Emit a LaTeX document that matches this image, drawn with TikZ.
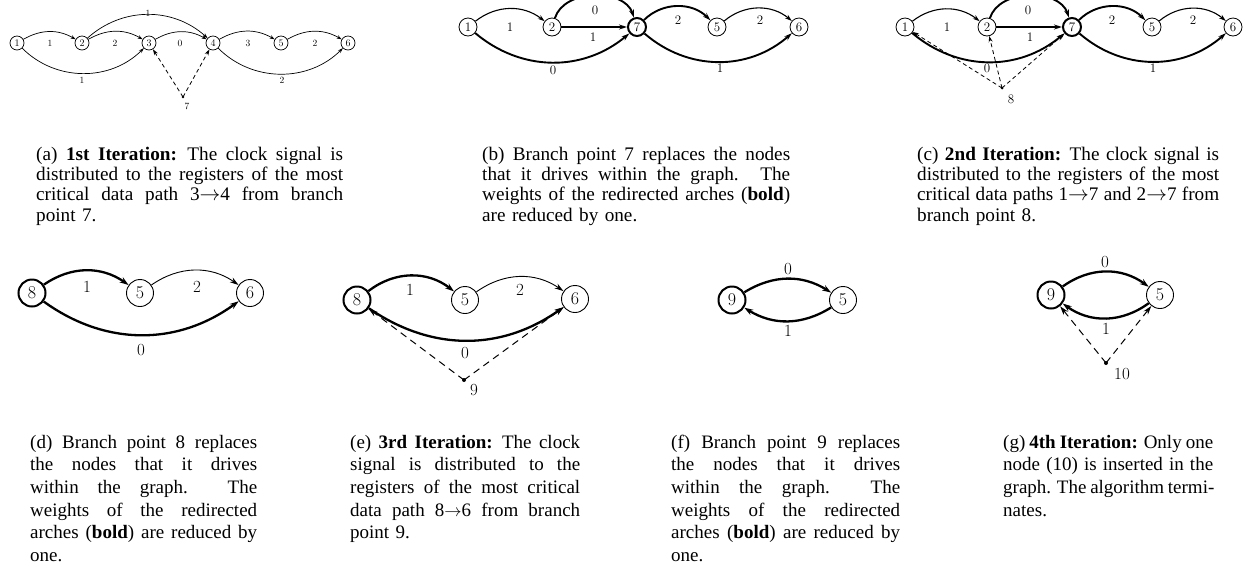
\documentclass[tikz,border=0pt]{standalone}
\usepackage{fontspec}
\newfontfamily\capfont{Liberation Serif}
\usetikzlibrary{arrows.meta}
\newcommand{\jl}[2]{\leavevmode{\spaceskip=0.25em plus 2em minus 0.05em\xspaceskip=0.35em plus 2em minus 0.05em\hbox to #1{#2}}}
\tikzset{
  vs/.style={circle,draw,line width=0.7pt,inner sep=0pt,minimum size=14pt,font=\fontsize{10}{10}\selectfont},
  vm/.style={circle,draw,line width=0.8pt,inner sep=0pt,minimum size=18pt,font=\fontsize{13}{13}\selectfont},
  vl/.style={circle,draw,line width=0.9pt,inner sep=0pt,minimum size=27pt,font=\fontsize{18}{18}\selectfont},
  vbold/.style={line width=2pt},
  es/.style={line width=0.7pt,-{Stealth[length=5pt,width=3.5pt]}},
  em/.style={line width=1.1pt,-{Stealth[length=7pt,width=4.5pt]}},
  eb/.style={line width=1.9pt,-{Stealth[length=8pt,width=5pt]}},
  et/.style={line width=0.9pt,-{Stealth[length=9pt,width=5.5pt]}},
  ebl/.style={line width=2.3pt,-{Stealth[length=9pt,width=6pt]}},
  das/.style={dash pattern=on 4pt off 3pt,line width=0.8pt,-{Stealth[length=6pt,width=4pt]}},
  dal/.style={dash pattern=on 7pt off 5pt,line width=1pt,-{Stealth[length=9pt,width=5.5pt]}},
  ls/.style={inner sep=0pt,font=\fontsize{9.5}{9.5}\selectfont},
  lm/.style={inner sep=0pt,font=\fontsize{13}{13}\selectfont},
  ll/.style={inner sep=0pt,font=\fontsize{17}{17}\selectfont},
  captop/.style={anchor=base west,inner sep=0pt,align=left,text width=310pt,font=\capfont\fontsize{19.2}{20.4}\selectfont},
  capbot/.style={anchor=base west,inner sep=0pt,align=left,text width=232pt,font=\capfont\fontsize{19}{22.7}\selectfont},
}
\begin{document}
\begin{tikzpicture}[x=1pt,y=1pt]
\useasboundingbox (0,0) rectangle (1251,-566);
% ---------- (a)
\node[vs] (a1) at (17,-43) {1};
\node[vs] (a2) at (82,-43) {2};
\node[vs] (a3) at (149,-43) {3};
\node[vs] (a4) at (213,-43) {4};
\node[vs] (a5) at (281,-43) {5};
\node[vs] (a6) at (348,-43) {6};
\draw[es] (a1) to[bend left=30] (a2);
\draw[es] (a2) to[bend left=30] (a3);
\draw[es] (a1) to[bend right=45] (a3);
\draw[es] (a3) to[bend left=30] (a4);
\draw[es] (a2) to[bend left=42] (a4);
\draw[es] (a4) to[bend left=30] (a5);
\draw[es] (a5) to[bend left=30] (a6);
\draw[es] (a4) to[bend right=45] (a6);
\node[ls] (la12) at (50,-43) {1};
\node[ls] (la23) at (115,-43) {2};
\node[ls] (la13) at (82,-80) {1};
\node[ls] (la34) at (180,-43) {0};
\node[ls] (la24) at (148,-13) {1};
\node[ls] (la45) at (248,-43) {3};
\node[ls] (la56) at (315,-43) {2};
\node[ls] (la46) at (282,-80) {2};
\coordinate (p7) at (183,-97);
\fill (p7) circle (1.3);
\node[ls] (lp7) at (187,-106) {7};
\draw[das] (p7) -- (a3);
\draw[das] (p7) -- (a4);
% ---------- (b)
\node[vm] (b1) at (468,-27) {1};
\node[vm] (b2) at (552,-27) {2};
\node[vm,vbold] (b7) at (637,-27) {7};
\node[vm] (b5) at (717,-27) {5};
\node[vm] (b6) at (799,-27) {6};
\draw[em] (b1) to[bend left=38] (b2);
\draw[eb] (b2) to[bend left=72] (b7);
\draw[eb] (b2) -- (b7);
\draw[eb] (b1) to[bend right=40] (b7);
\draw[eb] (b7) to[bend left=45] (b5);
\draw[em] (b5) to[bend left=40] (b6);
\draw[eb] (b7) to[bend right=41] (b6);
\node[lm] (lb12) at (510,-27) {1};
\node[lm] (lb27a) at (595,-10) {0};
\node[lm] (lb27b) at (593,-37) {1};
\node[lm] (lb17) at (553,-70) {0};
\node[lm] (lb75) at (678,-20) {2};
\node[lm] (lb56) at (760,-20) {2};
\node[lm] (lb76) at (720,-68) {1};
% ---------- (c)
\node[vm] (c1) at (905,-27) {1};
\node[vm] (c2) at (987,-27) {2};
\node[vm,vbold] (c7) at (1072,-27) {7};
\node[vm] (c5) at (1152,-27) {5};
\node[vm] (c6) at (1233,-27) {6};
\draw[em] (c1) to[bend left=38] (c2);
\draw[eb] (c2) to[bend left=72] (c7);
\draw[eb] (c2) -- (c7);
\draw[eb] (c1) to[bend right=40] (c7);
\draw[eb] (c7) to[bend left=45] (c5);
\draw[em] (c5) to[bend left=40] (c6);
\draw[eb] (c7) to[bend right=41] (c6);
\node[lm] (lc12) at (947,-27) {1};
\node[lm] (lc27a) at (1028,-10) {0};
\node[lm] (lc27b) at (1030,-37) {1};
\node[lm] (lc17) at (987,-68) {0};
\node[lm] (lc75) at (1112,-20) {2};
\node[lm] (lc56) at (1193,-20) {2};
\node[lm] (lc76) at (1153,-68) {1};
\coordinate (p8) at (1002,-88);
\fill (p8) circle (1.5);
\node[lm] (lp8) at (1011,-99) {8};
\draw[das] (p8) -- (c1);
\draw[das] (p8) -- (c2);
\draw[das] (p8) -- (c7);
% ---------- (d)
\node[vl,vbold] (d8) at (32,-293) {8};
\node[vl] (d5) at (140,-293) {5};
\node[vl] (d6) at (250,-293) {6};
\draw[ebl] (d8) to[bend left=35] (d5);
\draw[et] (d5) to[bend left=35] (d6);
\draw[ebl] (d8) to[bend right=36] (d6);
\node[ll] (ld85) at (87,-287) {1};
\node[ll] (ld56) at (197,-287) {2};
\node[ll] (ld86) at (141,-350) {0};
% ---------- (e)
\node[vl,vbold] (e8) at (357,-300) {8};
\node[vl] (e5) at (465,-300) {5};
\node[vl] (e6) at (575,-299) {6};
\draw[ebl] (e8) to[bend left=38] (e5);
\draw[et] (e5) to[bend left=35] (e6);
\draw[ebl] (e8) to[bend right=35] (e6);
\node[ll] (le85) at (410,-290) {1};
\node[ll] (le56) at (520,-290) {2};
\node[ll] (le86) at (465,-353) {0};
\coordinate (p9) at (464,-380);
\fill (p9) circle (2);
\node[ll] (lp9) at (474,-390) {9};
\draw[dal] (p9) -- (e8);
\draw[dal] (p9) -- (e6);
% ---------- (f)
\node[vl,vbold] (f9) at (732,-300) {9};
\node[vl] (f5) at (843,-300) {5};
\draw[ebl] (f9) to[bend left=32] (f5);
\draw[ebl] (f5) to[bend left=32] (f9);
\node[ll] (lf95) at (788,-269) {0};
\node[ll] (lf59) at (788,-331) {1};
% ---------- (g)
\node[vl,vbold] (g9) at (1051,-295) {9};
\node[vl] (g5) at (1160,-295) {5};
\draw[ebl] (g9) to[bend left=36] (g5);
\draw[ebl] (g5) to[bend left=36] (g9);
\node[ll] (lg95) at (1105,-262) {0};
\node[ll] (lg59) at (1106,-329) {1};
\coordinate (p10) at (1106,-363);
\fill (p10) circle (2);
\node[ll] (lp10) at (1122,-374) {10};
\draw[dal] (p10) -- (g9);
\draw[dal] (p10) -- (g5);
% ---------- captions
\node[captop] (ca) at (36,-160) {\jl{307pt}{(a) \textbf{1st Iteration:} The clock signal is}\\ \jl{307pt}{distributed to the registers of the most}\\ \jl{307pt}{critical data path 3$\rightarrow$4 from branch}\\ point 7.};
\node[captop] (cb) at (482,-160) {\jl{308pt}{(b) Branch point 7 replaces the nodes}\\ \jl{308pt}{that it drives within the graph. \ The}\\ \jl{308pt}{weights of the redirected arches (\textbf{bold})}\\ are reduced by one.};
\node[captop] (cc) at (917,-160) {\jl{302pt}{(c) \textbf{2nd Iteration:} The clock signal is}\\ \jl{302pt}{distributed to the registers of the most}\\ \jl{302pt}{critical data paths 1$\rightarrow$7 and 2$\rightarrow$7 from}\\ branch point 8.};
\node[capbot] (cd) at (30,-448) {\jl{227pt}{(d) Branch point 8 replaces}\\ \jl{227pt}{the nodes that it drives}\\ \jl{227pt}{within the graph. \ The}\\ \jl{227pt}{weights of the redirected}\\ \jl{227pt}{arches (\textbf{bold}) are reduced by}\\ one.};
\node[capbot] (ce) at (350,-448) {\jl{230pt}{(e) \textbf{3rd Iteration:} The clock}\\ \jl{230pt}{signal is distributed to the}\\ \jl{230pt}{registers of the most critical}\\ \jl{230pt}{data path 8$\rightarrow$6 from branch}\\ point 9.};
\node[capbot] (cf) at (671,-448) {\jl{229pt}{(f) Branch point 9 replaces}\\ \jl{229pt}{the nodes that it drives}\\ \jl{229pt}{within the graph. \ The}\\ \jl{229pt}{weights of the redirected}\\ \jl{229pt}{arches (\textbf{bold}) are reduced by}\\ one.};
\node[capbot] (cg) at (1003,-448) {\jl{210pt}{(g) \textbf{4th Iteration:} Only one}\\ \jl{210pt}{node (10) is inserted in the}\\ \jl{210pt}{graph. The algorithm termi-}\\ nates.};
\end{tikzpicture}
\end{document}
